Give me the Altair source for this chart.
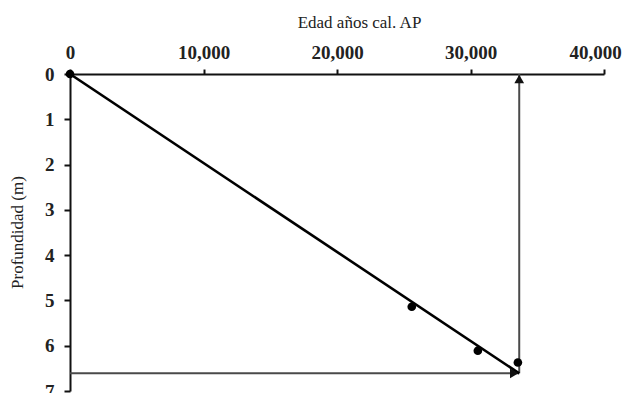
import altair as alt
import pandas as pd

# Data
dated_ages = [0, 25600, 30550, 33550]
dated_depths = [0.0, 5.14, 6.11, 6.37]

# Age-depth line (from surface to base of core)
line_ages = [0, 33650]
line_depths = [0.0, 6.61]

# Projection arrows
base_age = 33650
base_depth = 6.61

x_ticks = [0, 10000, 20000, 30000, 40000]
y_ticks = [0, 1, 2, 3, 4, 5, 6, 7]

FONT = "Liberation Serif"

x_scale = alt.Scale(domain=[0, 40000], nice=False, zero=False)
y_scale = alt.Scale(domain=[0, 7], reverse=True, nice=False)

x_axis = alt.Axis(
    orient="top", values=x_ticks, format=",d", title="Edad años cal. AP",
    labelFont=FONT, labelFontSize=19, labelFontWeight="bold", labelColor="#222",
    labelFlush=False, labelOverlap=False, labelPadding=7,
    labelOffset={"condition": {"test": "datum.value == 40000", "value": -9}, "value": 0},
    titleFont=FONT, titleFontSize=17, titleFontWeight="normal", titleColor="#222",
    titleX=289, titleY=-47, titleAlign="center", titleBaseline="alphabetic",
    domainColor="#111", domainWidth=2, tickColor="#111", tickWidth=2, tickSize=5,
    grid=False,
)
y_axis = alt.Axis(
    orient="left", values=y_ticks, format="d", title="Profundidad (m)",
    labelFont=FONT, labelFontSize=19, labelFontWeight="bold", labelColor="#222",
    labelFlush=False, labelOverlap=False, labelPadding=10,
    titleFont=FONT, titleFontSize=17, titleFontWeight="normal", titleColor="#222",
    titleX=-53, titleY=158, titleAlign="center", titleBaseline="middle", titleAngle=-90,
    domainColor="#111", domainWidth=2, tickColor="#111", tickWidth=2, tickSize=6,
    grid=False,
)


def X(field):
    return alt.X(field, type="quantitative", scale=x_scale, axis=x_axis)


def Y(field):
    return alt.Y(field, type="quantitative", scale=y_scale, axis=y_axis)


pts = pd.DataFrame({"age": dated_ages, "depth": dated_depths})
line_df = pd.DataFrame({"age": line_ages, "depth": line_depths})
h_arrow = pd.DataFrame({"age": [0, base_age], "depth": [base_depth, base_depth]})
v_arrow = pd.DataFrame({"age": [base_age, base_age], "depth": [base_depth, 0.0]})
h_head = pd.DataFrame({"age": [base_age], "depth": [base_depth]})
v_head = pd.DataFrame({"age": [base_age], "depth": [0.0]})

arrow_color = "#4a4a4a"

h_line = alt.Chart(h_arrow).mark_line(color=arrow_color, strokeWidth=2).encode(x=X("age"), y=Y("depth"))
v_line = alt.Chart(v_arrow).mark_line(color=arrow_color, strokeWidth=2).encode(x=X("age"), y=Y("depth"))
diag = alt.Chart(line_df).mark_line(color="#000", strokeWidth=2.6).encode(x=X("age"), y=Y("depth"))
h_tri = alt.Chart(h_head).mark_point(shape="triangle-right", filled=True, color="#111",
                                     size=95, opacity=1, xOffset=-5).encode(x=X("age"), y=Y("depth"))
v_tri = alt.Chart(v_head).mark_point(shape="triangle-up", filled=True, color="#111",
                                     size=95, opacity=1, yOffset=5).encode(x=X("age"), y=Y("depth"))
dots = alt.Chart(pts).mark_point(shape="circle", filled=True, color="#000",
                                 size=75, opacity=1).encode(x=X("age"), y=Y("depth"))

chart = alt.layer(h_line, v_line, diag, h_tri, v_tri, dots).properties(
    width=534, height=317,
    autosize=alt.AutoSizeParams(type="none"),
    padding={"left": 62, "top": 66, "right": 18, "bottom": 10},
    background="white",
).configure_view(stroke=None)

chart.save("out.html", embed_options={"renderer": "svg", "actions": False})
